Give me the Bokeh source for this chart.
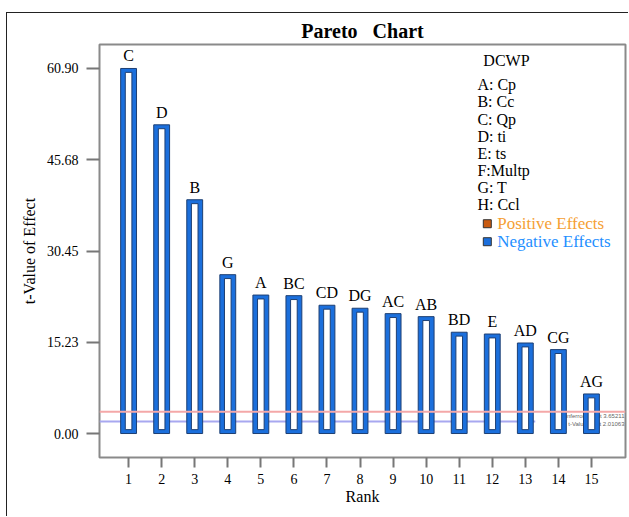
from bokeh.plotting import figure
from bokeh.models import Range1d, FixedTicker, Span, ColumnDataSource
from bokeh.core.properties import value
from bokeh.embed import file_html
from bokeh.resources import INLINE

# ---- data ----
ranks = list(range(1, 16))
terms = ["C", "D", "B", "G", "A", "BC", "CD", "DG", "AC", "AB", "BD", "E", "AD", "CG", "AG"]
t_values = [60.90, 51.5, 39.0, 26.5, 23.1, 23.0, 21.4, 20.9, 20.0, 19.5, 16.9, 16.6, 15.1, 14.0, 6.6]
y_ticks = [0.0, 15.225, 30.45, 45.675, 60.90]
y_tick_labels = ["0.00", "15.23", "30.45", "45.68", "60.90"]
bonferroni_limit = 3.65211
t_limit = 2.01063
factor_names = ["A: Cp", "B: Cc", "C: Qp", "D: ti", "E: ts", "F:Multp", "G: T", "H: Ccl"]

SERIF = "Liberation Serif"

p = figure(width=622, height=504, output_backend="svg", toolbar_location=None,
           x_range=Range1d(0.12, 16.03), y_range=Range1d(-4.0, 64.9),
           min_border_left=92, min_border_right=4, min_border_top=31, min_border_bottom=60)
p.styles = {"border-left": "1px solid #222", "border-top": "1px solid #222",
            "margin-left": "6px", "margin-top": "12px"}
p.background_fill_color = "white"
p.border_fill_color = "white"
p.outline_line_color = "#8a8a8a"
p.outline_line_width = 2
p.grid.visible = False

p.title.text = "Pareto\u00a0\u00a0\u00a0Chart"
p.title.align = "center"
p.title.text_font = SERIF
p.title.text_font_size = "20px"
p.title.text_font_style = "bold"
p.title.text_color = "black"
p.title.standoff = 6
p.title.offset = 0

# threshold lines
p.add_layout(Span(location=bonferroni_limit, dimension="width", line_color="#f4a8a8", line_width=2))
p.segment(x0=[0.12], y0=[t_limit], x1=[13.3], y1=[t_limit], line_color="#a8a8f0", line_width=2)
p.text(x=[16.0, 16.0], y=[bonferroni_limit, t_limit],
       text=["Bonferroni Limit 3.65211", "t-Value Limit 2.01063"],
       text_align="right", text_baseline="top", text_font_size="6px", text_color="#666666",
       text_font=value("Liberation Sans"), y_offset=[1, 0])

# bars
src = ColumnDataSource(dict(x=ranks, top=t_values, terms=terms,
                            itop=[v - 0.65 for v in t_values]))
p.vbar(x="x", top="top", bottom=0, width=0.48, source=src,
       fill_color="#1b6fdc", line_color="#1d3f73", line_width=1)
p.vbar(x="x", top="itop", bottom=0.65, width=0.2, source=src,
       fill_color="white", line_color="#1d3f73", line_width=1)
p.text(x="x", y="top", text="terms", source=src, text_align="center", text_baseline="bottom",
       y_offset=-4, text_font=value(SERIF), text_font_size="16px", text_color="black")

# legend
p.text(x=[11.73], y=[62.2], text=["DCWP"], text_font=value(SERIF), text_font_size="16px",
       text_baseline="middle", text_color="black")
leg_y = [58.2, 55.4, 52.4, 49.5, 46.7, 43.8, 41.0, 38.2]
p.text(x=[11.55] * len(factor_names), y=leg_y, text=factor_names, text_font=value(SERIF),
       text_font_size="16px", text_baseline="middle", text_color="black")
p.scatter(x=[11.85, 11.85], y=[35.0, 32.0], marker="square", size=8,
          fill_color=["#c85a10", "#1b6fdc"], line_color="#333333", line_width=1)
p.text(x=[12.15, 12.15], y=[35.0, 32.0], text=["Positive Effects", "Negative Effects"],
       text_font=value(SERIF), text_font_size="17px", text_baseline="middle",
       text_color=["#f5a033", "#1e8fff"])

# axes
p.yaxis.ticker = FixedTicker(ticks=y_ticks)
p.yaxis.major_label_overrides = {t: l for t, l in zip(y_ticks, y_tick_labels)}
p.xaxis.ticker = FixedTicker(ticks=ranks)
p.xaxis.axis_label = "Rank"
p.yaxis.axis_label = "t-Value of Effect"
for ax in (p.xaxis, p.yaxis):
    ax.axis_line_color = None
    ax.major_tick_line_color = "#777777"
    ax.major_tick_line_width = 2
    ax.major_tick_in = 0
    ax.minor_tick_line_color = None
    ax.major_label_text_font = SERIF
    ax.major_label_text_font_size = "14px"
    ax.major_label_text_color = "black"
    ax.axis_label_text_font = SERIF
    ax.axis_label_text_font_size = "16px"
    ax.axis_label_text_font_style = "normal"
    ax.axis_label_text_color = "black"
p.xaxis.major_tick_out = 10
p.xaxis.major_label_standoff = 6
p.xaxis.axis_label_standoff = 1
p.yaxis.major_tick_out = 13
p.yaxis.major_label_standoff = 8
p.yaxis.axis_label_standoff = 6

open("out.html", "w").write(file_html(p, INLINE))
